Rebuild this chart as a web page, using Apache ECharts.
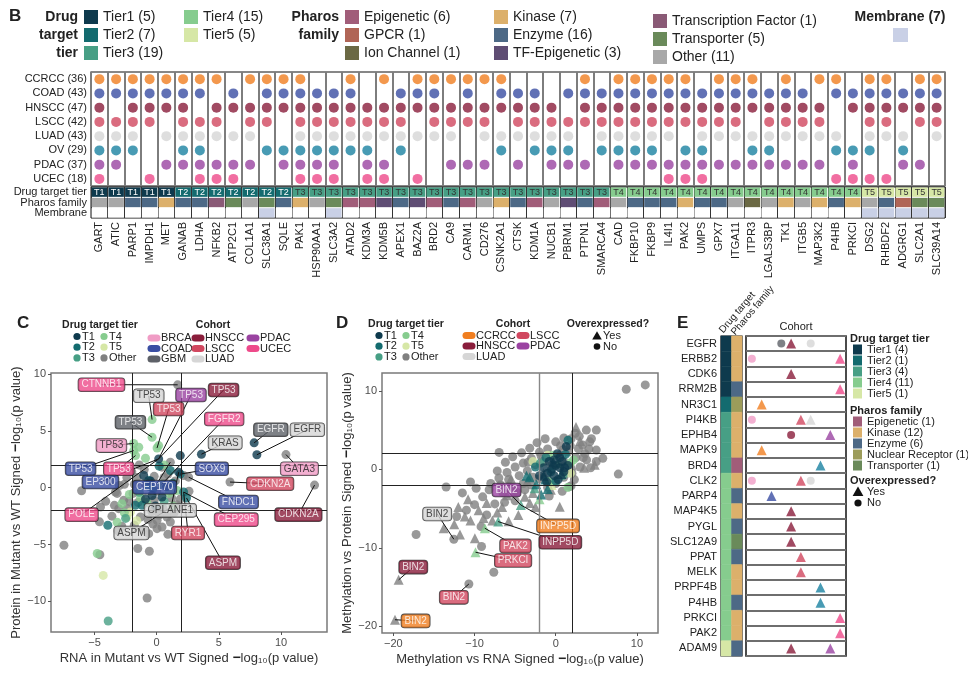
<!DOCTYPE html>
<html><head><meta charset="utf-8">
<script src="https://cdn.jsdelivr.net/npm/echarts@6/dist/echarts.min.js"></script>
<style>html,body{margin:0;padding:0;background:#fff}#c{width:968px;height:677px}</style>
</head><body><div id="c"></div><script>
// ---------------- DATA: panel B ----------------
const genes = ['GART','ATIC','PARP1','IMPDH1','MET','GANAB','LDHA','NFKB2','ATP2C1','COL1A1','SLC38A1','SQLE','PAK1','HSP90AA1','SLC3A2','ATAD2','KDM3A','KDM5B','APEX1','BAZ2A','BRD2','CA9','CARM1','CD276','CSNK2A1','CTSK','KDM1A','NUCB1','PBRM1','PTPN1','SMARCA4','CAD','FKBP10','FKBP9','IL4I1','PAK2','UMPS','GPX7','ITGA11','ITPR3','LGALS3BP','TK1','ITGB5','MAP3K2','P4HB','PRKCI','DSG2','RHBDF2','ADGRG1','SLC2A1','SLC39A14'];
const geneTier = [1,1,1,1,1, 2,2,2,2,2,2,2, 3,3,3,3,3,3,3,3,3,3,3,3,3,3,3,3,3,3,3, 4,4,4,4,4,4,4,4,4,4,4,4,4,4,4, 5,5,5,5,5];
const genePharos = ['Other','Other','Enzyme','Enzyme','Kinase','Enzyme','Enzyme','Transcription Factor','Transporter','Other','Transporter','Enzyme','Kinase','Other','Transporter','Epigenetic','Epigenetic','TF-Epigenetic','Enzyme','TF-Epigenetic','Epigenetic','Enzyme','Epigenetic','Other','Kinase','Enzyme','Epigenetic','Other','TF-Epigenetic','Enzyme','Epigenetic','Other','Enzyme','Enzyme','Enzyme','Kinase','Enzyme','Enzyme','Other','Ion Channel','Other','Kinase','Other','Kinase','Enzyme','Kinase','Other','Enzyme','GPCR','Transporter','Transporter'];
const membraneGenes = ['SLC38A1','SLC3A2','DSG2','RHBDF2','ADGRG1','SLC2A1','SLC39A14'];
const bCohorts = ['CCRCC','COAD','HNSCC','LSCC','LUAD','OV','PDAC','UCEC'];
const bCohortCounts = [36,43,47,42,43,29,37,18];
// column numbers (1-based, in gene order) where each cohort has a dot
const presCCRCC = [1,2,3,4,5,6,7,8,10,11,12,13,16,18,20,21,22,23,24,25,30,32,33,34,35,36,38,39,40,42,44,45,47,48,50,51];
const presCOAD = [1,2,3,4,5,6,7,9,11,12,13,14,15,16,19,20,21,23,25,26,27,29,30,31,32,33,34,35,36,37,38,39,40,41,42,43,45,46,47,48,49,50,51];
const presHNSCC = [1,3,4,5,6,8,9,10,11,12,13,14,15,16,17,18,19,20,21,22,23,24,25,26,27,28,30,31,32,33,34,35,36,37,38,39,40,41,42,43,44,46,47,48,49,50,51];
const presLSCC = [1,2,3,4,6,7,8,10,11,13,14,15,16,17,18,19,21,22,23,24,26,27,28,29,30,31,32,33,34,35,36,37,38,39,41,42,43,44,47,48,50,51];
const presLUAD = [1,2,3,5,6,7,8,9,10,13,14,15,16,17,18,19,20,21,22,24,25,26,27,28,29,31,32,33,34,35,37,38,39,40,41,42,43,44,45,47,48,49,51];
const presOV = [1,2,3,6,7,11,12,13,14,15,16,17,19,25,27,28,29,31,32,33,34,36,37,40,41,45,46,47,49];
const presPDAC = [1,2,5,6,7,8,9,10,12,13,14,15,17,18,22,23,24,26,28,29,30,32,33,34,35,36,37,38,39,40,41,42,43,44,46,49,50];
const presUCEC = [1,4,7,8,9,13,14,15,17,18,20,35,36,37,45,46,47,48];
const bPresence = [presCCRCC,presCOAD,presHNSCC,presLSCC,presLUAD,presOV,presPDAC,presUCEC];

// ---------------- DATA: panel C ----------------
const cT1 = [[1.9,2.83],[3.6,2.95],[7.84,3.95],[8.06,2.9],[0.16,2.54],[1.77,1.37],[-1.04,1.08],[-0.37,-0.68],[0.43,-0.82],[-0.9,-1.0],[-0.1,-1.6],[0.8,0.1],[-0.5,0.6]];
const cT2 = [[1.1,1.52],[-0.64,0.64],[2.17,-0.38],[-1.71,-1.55],[-1.17,-1.55],[-3.93,-3.3],[2.4,-0.9],[0.2,1.9],[-0.3,-0.1],[1.3,0.4],[1.9,1.2]];
const cT3 = [[-3.9,-11.73],[-2.5,-2.7],[-0.6,0.1],[0.6,-1.2],[-1.4,-0.4]];
const cT4 = [[-0.37,6.0],[-0.37,4.44],[0.03,3.5],[-1.85,3.9],[-1.44,3.56],[-1.85,3.27],[-1.7,2.83],[0.16,3.71],[-3.18,-3.04],[-4.78,-5.79],[1.64,-0.24],[-2.8,-1.4],[-1.3,-0.9],[-0.8,-1.3],[0.4,0.3],[1.0,-0.5],[-2.2,-0.6],[0.6,2.0],[-0.9,2.6],[1.3,-1.6],[-2.6,-2.2]];
const cT5 = [[-4.3,-7.72],[-2.11,-2.14],[-2.4,-2.6],[-1.6,-2.9]];
const cOther = [[1.69,9.06],[10.4,2.92],[5.9,0.5],[12.7,0.23],[-6.04,-0.27],[-7.46,-5.06],[-4.57,-5.9],[-1.52,-5.35],[-0.59,-5.59],[-0.77,-9.71],[-4.52,-1.7],[1.1,2.25],[0.43,1.81],[2.17,1.08],[2.57,0.93],[-3.31,-0.38],[-2.65,-1.11],[-3.05,-1.84],[-2.38,-1.84],[-1.31,-2.58],[0.03,-2.87],[0.83,-2.58],[0.03,-3.6],[0.43,-3.46],[-0.64,-4.04],[1.1,-3.02],[-1.8,0.3],[-2.4,0.9],[-3.0,0.2],[-1.0,1.6],[0.9,1.2],[1.5,0.6],[-0.2,1.0],[0.0,-0.3],[-1.5,-1.3],[-0.4,-2.1],[1.4,-2.2],[-3.6,-2.5],[-4.1,-1.2],[-2.8,-3.4],[-1.1,-3.7],[0.9,-4.1],[-2.0,1.4],[-1.4,2.0],[0.5,-1.8],[1.9,-1.0],[-0.7,-2.8],[-3.18,-0.5],[-3.4,-1.55],[-3.1,-3.8],[-2.2,-1.2],[-1.9,-0.5],[-0.9,0.3],[0.6,0.9],[1.2,-0.9],[-0.2,-1.1],[-1.6,0.9],[-2.6,0.3],[0.2,-2.4],[-1.8,-3.3],[-0.3,-3.2],[1.6,-1.5],[2.6,-0.3],[-4.6,-3.0],[-3.7,0.6]];
const cLabelGene = ['CTNNB1','TP53','TP53','TP53','TP53','TP53','FGFR2','EGFR','EGFR','TP53','KRAS','GATA3','TP53','TP53','SOX9','EP300','CEP170','CDKN2A','FNDC1','CDKN2A','POLE','CPLANE1','CEP295','ASPM','RYR1','ASPM'];
const cLabelCohort = ['UCEC','LUAD','PDAC','HNSCC','LSCC','GBM','UCEC','GBM','LUAD','BRCA','LUAD','BRCA','COAD','UCEC','COAD','COAD','COAD','LSCC','COAD','HNSCC','UCEC','LUAD','UCEC','LUAD','LSCC','HNSCC'];
const cLabelAt = [[-4.44,9.07],[-0.64,8.1],[2.76,8.16],[5.38,8.6],[0.96,6.93],[-2.11,5.76],[5.43,6.05],[9.18,5.11],[12.12,5.11],[-3.64,3.71],[5.51,3.95],[11.48,1.67],[-6.12,1.67],[-3.05,1.67],[4.44,1.67],[-4.52,0.5],[-0.16,0.05],[9.13,0.35],[6.58,-1.26],[11.4,-2.37],[-6.04,-2.37],[1.1,-1.99],[6.4,-2.81],[-2.03,-3.98],[2.52,-3.98],[5.33,-6.61]];
const cLabelPoint = [[1.69,9.06],[-0.37,6.0],[0.16,2.54],[0.16,2.54],[0.03,3.5],[-0.37,4.44],[0.4,0.3],[7.84,3.95],[8.06,2.9],[-1.85,3.9],[3.6,2.95],[10.4,2.92],[-1.85,3.27],[-1.7,2.83],[1.9,1.2],[0.16,2.54],[1.1,2.25],[5.9,0.5],[2.57,0.93],[12.7,0.23],[0.16,2.54],[1.77,1.37],[2.17,-0.38],[1.3,-1.6],[2.17,-0.38],[2.4,-0.9]];

// ---------------- DATA: panel D  ([x, y, overexpressed]) ----------------
const dT1 = [[-0.5,0,0],[0,0.5,0],[0.5,0.2,0],[-1,-0.5,0],[-0.2,-0.8,0],[0.8,1.0,0],[1.3,2.9,0],[-1.5,0.2,0],[0.3,-1.3,0],[1.0,-0.3,0],[-0.8,1.0,0],[0.5,1.5,0],[-2,-0.8,0],[1.5,0.5,0],[0.2,2.0,0],[-1.1,-1.6,0],[1.1,0.2,0],[-0.2,1.2,0],[-1.5,-0.8,1],[0.7,-0.6,1],[-0.3,0.9,1]];
const dT2 = [[1.52,3.72,0],[-1.2,1.5,0],[0.0,-1.5,0],[-2.5,0.3,0],[1.2,1.9,0],[-0.6,-0.3,0],[-3.2,-1.0,1],[-3.6,-0.8,1],[-2.4,-1.9,1],[-1.0,-2.5,1],[-1.8,-3.2,1],[-1.3,-1.3,1]];
const dT3 = [[-4.3,-4.54,1],[-7.09,-6.65,1],[-2.6,-2.4,1],[-1.9,0.8,0],[0.9,-0.8,0]];
const dT4 = [[-8.73,-7.5,1],[-9.88,-10.55,1],[-2.0,-3.8,1],[0.3,0.8,1],[-0.3,1.8,0],[1.8,0.8,0],[-0.8,-1.5,0],[1.5,-2.3,0],[2.2,1.2,0]];
const dT5 = [[-2.8,1.0,0],[1.8,-0.5,0],[-1.0,1.8,0],[-0.5,-2.0,1]];
const dOther = [[8.69,10.2,0],[11.03,10.75,0],[7.71,-0.6,0],[-6.97,2.16,0],[-13.5,-2.25,0],[-17.2,-8.3,0],[-12.55,-8.9,0],[-9.14,-9.83,0],[-7.63,-13.1,0],[-10.7,-14.6,0],[3.77,5.0,0],[5.0,5.0,0],[4.2,3.5,0],[5.0,2.45,0],[5.0,1.0,0],[5.8,1.4,0],[1.7,-2.2,0],[2.4,4.6,0],[3.3,3.1,0],[3.6,2.0,0],[4.4,3.9,0],[1.0,4.0,0],[0.0,3.5,0],[-1.0,2.6,0],[-2.0,2.2,0],[-3.0,1.4,0],[-4.0,0.8,0],[-5.0,0.3,0],[-6.0,-0.4,0],[-7.0,-1.1,0],[-8.0,-1.8,0],[-4.5,-0.8,0],[-3.5,-0.2,0],[-2.5,0.6,0],[-1.5,1.0,0],[0.5,1.8,0],[1.5,2.2,0],[2.5,1.5,0],[3.0,0.3,0],[2.0,-0.5,0],[1.0,-1.0,0],[0.0,-1.8,0],[-1.0,-2.3,0],[-2.0,-1.2,0],[-3.0,-2.0,0],[-4.0,-1.8,0],[-5.5,-2.3,0],[-6.5,-3.0,0],[-9.0,-3.5,0],[-10.0,-4.5,0],[-11.0,-5.2,0],[-8.5,-5.8,0],[-7.5,-4.4,0],[1.8,3.0,0],[-0.5,0.5,0],[2.8,2.6,0],[3.8,1.2,0],[1.9,-2.1,0],[0.8,-2.8,0],[-0.8,-3.4,0],[-9.2,-7.3,0],[-11.5,-3.0,0],[-6.8,-2.0,0],[-5.0,-4.0,0],[-8.2,-2.6,0],[-7.2,-0.2,0],[-6.2,0.9,0],[-5.3,1.6,0],[-4.2,2.1,0],[-3.2,2.7,0],[-2.3,3.4,0],[-1.3,3.9,0],[0.6,3.0,0],[1.9,3.9,0],[2.9,4.2,0],[3.4,1.5,0],[4.1,2.6,0],[4.3,0.2,0],[2.3,-1.3,0],[-5.8,-1.3,0],[-4.8,-2.9,0],[-3.8,-2.6,0],[-2.8,-1.0,0],[-6.3,-4.2,0],[-9.8,-2.4,0],[-12.2,-6.0,0],[-10.5,-1.6,0],[-3.4,0.9,0],[-1.8,1.7,0],[0.9,2.5,0],[-10.5,-6.5,1],[-9.96,-8.77,1],[-19.35,-14.07,1],[-19.8,-19.15,1],[-12.5,-7.0,1],[-11.2,-6.0,1],[-9.5,-5.2,1],[-8.5,-4.3,1],[-7.2,-5.5,1],[-6.0,-3.3,1],[-5.0,-2.8,1],[-3.8,-3.5,1],[-2.5,-4.8,1],[-4.6,-5.8,1],[-3.5,-1.5,1],[-1.5,-0.5,1],[0.5,0.8,1],[2.5,5.4,1],[3.5,0.2,1],[-7.8,-6.5,1],[-13.8,-7.5,1],[-12.0,-4.8,1],[-10.8,-3.8,1],[-5.5,-1.2,1],[2.0,0.5,1],[4.8,0.6,1],[-2.8,-3.0,1],[0.5,-4.75,1],[-8.9,-6.2,1],[-6.6,-4.8,1],[-11.8,-8.3,1],[-5.8,-6.6,1],[-3.2,-4.3,1],[1.2,1.2,1],[3.0,3.6,1],[-0.6,-2.6,1]];
const dLabelGene = ['BIN2','BIN2','INPP5D','INPP5D','PAK2','PRKCI','BIN2','BIN2','BIN2'];
const dLabelCohort = ['PDAC','LUAD','CCRCC','HNSCC','LSCC','LSCC','HNSCC','LSCC','CCRCC'];
const dLabelAt = [[-6.06,-2.63],[-14.6,-5.68],[0.29,-7.2],[0.57,-9.28],[-4.96,-9.75],[-5.25,-11.6],[-17.55,-12.45],[-12.55,-16.3],[-17.26,-19.3]];
const dLabelPoint = [[-4.3,-4.54],[-12.55,-8.9],[-4.3,-4.54],[-7.09,-6.65],[-8.73,-7.5],[-9.88,-10.55],[-19.35,-14.07],[-10.7,-14.6],[-19.8,-19.15]];

// ---------------- DATA: panel E ----------------
const eGenes = ['EGFR','ERBB2','CDK6','RRM2B','NR3C1','PI4KB','EPHB4','MAPK9','BRD4','CLK2','PARP4','MAP4K5','PYGL','SLC12A9','PPAT','MELK','PRPF4B','P4HB','PRKCI','PAK2','ADAM9'];
const eTier = [1,1,1,1,2,3,3,3,3,4,4,4,4,4,4,4,4,4,4,4,5];
const ePharos = ['Kinase','Kinase','Kinase','Enzyme','Nuclear Receptor','Kinase','Kinase','Kinase','Epigenetic','Kinase','Enzyme','Kinase','Enzyme','Transporter','Enzyme','Kinase','Kinase','Enzyme','Kinase','Kinase','Enzyme'];
const eCohorts = ['BRCA','CCRCC','COAD','GBM','HNSCC','LSCC','LUAD','OV','PDAC','UCEC'];
const eHitGene = ['EGFR','EGFR','EGFR','ERBB2','ERBB2','CDK6','RRM2B','NR3C1','PI4KB','PI4KB','PI4KB','EPHB4','EPHB4','MAPK9','BRD4','CLK2','CLK2','CLK2','PARP4','MAP4K5','PYGL','SLC12A9','PPAT','MELK','PRPF4B','P4HB','PRKCI','PAK2','ADAM9','ADAM9'];
const eHitCohort = ['GBM','HNSCC','LUAD','BRCA','UCEC','HNSCC','UCEC','CCRCC','BRCA','LSCC','LUAD','HNSCC','PDAC','CCRCC','OV','BRCA','LSCC','LUAD','COAD','HNSCC','HNSCC','HNSCC','LSCC','LSCC','OV','OV','UCEC','UCEC','HNSCC','PDAC'];
const eHitOver = [0,1,0,0,1,1,1,1,0,1,1,0,1,1,1,0,1,0,1,1,1,1,1,1,1,1,1,1,1,1];

// ---------------- STYLE ----------------
const FONT = '"Liberation Sans", Arial, sans-serif';
const cohortColor = {BRCA:'#f09cc5',CCRCC:'#f07e20',COAD:'#3a4ea3',GBM:'#5e6168',HNSCC:'#8a1d3b',LSCC:'#d1475f',LUAD:'#d6d6d6',OV:'#1a82a1',PDAC:'#9a43a1',UCEC:'#ee4a8a'};
const labelTextColor = {BRCA:'#222',LUAD:'#222'};
const tierColor = ['#0e3a4d','#136b6f','#479f85','#86cc8e','#d6e7a6'];
const otherGray = '#808080';
const pharosColor = {'Epigenetic':'#a15d79','GPCR':'#b06556','Ion Channel':'#6b6944','Kinase':'#dcb06b','Enzyme':'#4d6986','TF-Epigenetic':'#5f4d74','Transcription Factor':'#8a5a76','Transporter':'#6a8a5a','Other':'#a8a8a8','Nuclear Receptor':'#9c9c5a'};
const membraneColor = '#c9d0e6';

// ---------------- helpers ----------------
const G = [];
function txt(x,y,t,o){G.push({type:'text',x:x,y:y,silent:true,z:100,style:Object.assign({text:t,fill:'#222',fontSize:14,fontFamily:FONT,align:'left',verticalAlign:'middle',textAlign:'left',textVerticalAlign:'middle'},o||{})});}
function box(x,y,w,h,c,r){G.push({type:'rect',silent:true,z:100,shape:{x:x,y:y,width:w,height:h,r:r||0},style:{fill:c}});}
function dot(x,y,r,c){G.push({type:'circle',silent:true,z:100,shape:{cx:x,cy:y,r:r},style:{fill:c}});}
function tri(x,y,s,c){G.push({type:'polygon',silent:true,z:100,shape:{points:[[x,y-s*0.6],[x-s*0.6,y+s*0.45],[x+s*0.6,y+s*0.45]]},style:{fill:c}});}
function pill(x,y,c){box(x-6.5,y-3.6,13,7.2,c,3.6);}

// ---- B legend ----
txt(9,16,'B',{fontSize:17,fontWeight:'bold'});
[['Drug',17],['target',35],['tier',53]].forEach(a=>txt(78,a[1],a[0],{fontWeight:'bold',align:'right',textAlign:'right'}));
const tierLeg = ['Tier1 (5)','Tier2 (7)','Tier3 (19)','Tier4 (15)','Tier5 (5)'];
const tierLegPos = [[84,17],[84,35],[84,53],[184,17],[184,35]];
tierLeg.forEach((t,i)=>{box(tierLegPos[i][0],tierLegPos[i][1]-7,14,14,tierColor[i]);txt(tierLegPos[i][0]+19,tierLegPos[i][1],t);});
[['Pharos',17],['family',35]].forEach(a=>txt(339,a[1],a[0],{fontWeight:'bold',align:'right',textAlign:'right'}));
const pharLeg = [['Epigenetic','Epigenetic (6)',345,17],['GPCR','GPCR (1)',345,35],['Ion Channel','Ion Channel (1)',345,53],['Kinase','Kinase (7)',494,17],['Enzyme','Enzyme (16)',494,35],['TF-Epigenetic','TF-Epigenetic (3)',494,53],['Transcription Factor','Transcription Factor (1)',653,21],['Transporter','Transporter (5)',653,39],['Other','Other (11)',653,57]];
pharLeg.forEach(p=>{box(p[2],p[3]-7,14,14,pharosColor[p[0]]);txt(p[2]+19,p[3],p[1]);});
txt(900,17,'Membrane (7)',{fontWeight:'bold',align:'center',textAlign:'center'});
box(893,28,15,14,membraneColor);

// ---- C legend ----
txt(17,323,'C',{fontSize:17,fontWeight:'bold'});
function tierLegend(x0,x1,y0){
  const rows=[y0,y0+10.7,y0+21.4];
  [['T1',tierColor[0],x0,rows[0]],['T2',tierColor[1],x0,rows[1]],['T3',tierColor[2],x0,rows[2]],['T4',tierColor[3],x1,rows[0]],['T5',tierColor[4],x1,rows[1]],['Other',otherGray,x1,rows[2]]].forEach(a=>{dot(a[2],a[3],3.6,a[1]);txt(a[2]+5,a[3],a[0],{fontSize:11});});
}
txt(100,325,'Drug target tier',{fontSize:10.5,fontWeight:'bold',align:'center',textAlign:'center'});
tierLegend(77,104,336.5);
txt(213,325,'Cohort',{fontSize:10.5,fontWeight:'bold',align:'center',textAlign:'center'});
[['BRCA',154,338],['COAD',154,348.5],['GBM',154,359],['HNSCC',198,338],['LSCC',198,348.5],['LUAD',198,359],['PDAC',253,338],['UCEC',253,348.5]].forEach(a=>{pill(a[1],a[2],cohortColor[a[0]]);txt(a[1]+7,a[2],a[0],{fontSize:11});});

// ---- D legend ----
txt(336,323,'D',{fontSize:17,fontWeight:'bold'});
txt(406,324,'Drug target tier',{fontSize:10.5,fontWeight:'bold',align:'center',textAlign:'center'});
tierLegend(379,406,335.5);
txt(513,324,'Cohort',{fontSize:10.5,fontWeight:'bold',align:'center',textAlign:'center'});
[['CCRCC',469,335.5],['HNSCC',469,346],['LUAD',469,356.5],['LSCC',523,335.5],['PDAC',523,346]].forEach(a=>{pill(a[1],a[2],cohortColor[a[0]]);txt(a[1]+7,a[2],a[0],{fontSize:11});});
txt(608,324,'Overexpressed?',{fontSize:10.5,fontWeight:'bold',align:'center',textAlign:'center'});
tri(597,336,8,'#111');txt(603,336,'Yes',{fontSize:11});
dot(597,346.5,3.3,'#111');txt(603,346.5,'No',{fontSize:11});

// ---- E legend & headers ----
txt(677,323,'E',{fontSize:17,fontWeight:'bold'});
txt(796,327,'Cohort',{fontSize:11,align:'center',textAlign:'center'});
G.push({type:'text',x:725,y:335,rotation:50*Math.PI/180,silent:true,z:100,style:{text:'Drug target',fill:'#222',fontSize:10,fontFamily:FONT,align:'left',verticalAlign:'bottom',textAlign:'left',textVerticalAlign:'bottom'}});
G.push({type:'text',x:737,y:337,rotation:50*Math.PI/180,silent:true,z:100,style:{text:'Pharos family',fill:'#222',fontSize:10,fontFamily:FONT,align:'left',verticalAlign:'bottom',textAlign:'left',textVerticalAlign:'bottom'}});
txt(850,339,'Drug target tier',{fontSize:11,fontWeight:'bold'});
['Tier1 (4)','Tier2 (1)','Tier3 (4)','Tier4 (11)','Tier5 (1)'].forEach((t,i)=>{const y=349.5+i*11;box(853,y-5,9,10,tierColor[i]);txt(867,y,t,{fontSize:11});});
txt(850,411,'Pharos family',{fontSize:11,fontWeight:'bold'});
[['Epigenetic','Epigenetic (1)'],['Kinase','Kinase (12)'],['Enzyme','Enzyme (6)'],['Nuclear Receptor','Nuclear Receptor (1)'],['Transporter','Transporter (1)']].forEach((p,i)=>{const y=421.5+i*11;box(853,y-5,9,10,pharosColor[p[0]]);txt(867,y,p[1],{fontSize:11});});
txt(850,481,'Overexpressed?',{fontSize:11,fontWeight:'bold'});
tri(858,492,9,'#111');txt(867,492,'Yes',{fontSize:11});
dot(858,503,3.6,'#111');txt(867,503,'No',{fontSize:11});

// ---------------- series building ----------------
const series = [];
bCohorts.forEach((c,i)=>{
  series.push({type:'scatter',xAxisIndex:0,yAxisIndex:0,symbolSize:10,itemStyle:{color:cohortColor[c]},
    data:bPresence[i].map(k=>[genes[k-1], c+' ('+bCohortCounts[i]+')'])});
});
const annoRows = ['Drug target tier','Pharos family','Membrane'];
const annoData=[], annoFill=[], annoText=[];
genes.forEach((g,i)=>{
  annoData.push([i,0]); annoFill.push(tierColor[geneTier[i]-1]); annoText.push('T'+geneTier[i]);
  annoData.push([i,1]); annoFill.push(pharosColor[genePharos[i]]); annoText.push('');
  annoData.push([i,2]); annoFill.push(membraneGenes.indexOf(g)>=0?membraneColor:'#ffffff'); annoText.push('');
});
series.push({type:'custom',xAxisIndex:1,yAxisIndex:1,data:annoData,silent:true,
  renderItem:(p,api)=>{const c=api.coord([api.value(0),api.value(1)]);const s=api.size([1,1]);const t=annoText[p.dataIndex];
    const el={type:'rect',shape:{x:c[0]-s[0]/2+0.6,y:c[1]-s[1]/2+0.5,width:s[0]-1.2,height:s[1]-1},style:{fill:annoFill[p.dataIndex]}};
    if(t){el.textContent={style:{text:t,fill:(t==='T1'||t==='T2')?'#fff':'#333',fontSize:9,fontFamily:FONT}};el.textConfig={position:'inside'};}
    return el;}});

function thr(xc){return {silent:true,symbol:'none',animation:false,label:{show:false},lineStyle:{color:'#222',width:1,type:'solid'},
  data:[{xAxis:-2,lineStyle:{color:xc,width:xc==='#222'?1:1.4}},{xAxis:2},{yAxis:2},{yAxis:-2}]};}
const cSets=[[cOther,otherGray],[cT5,tierColor[4]],[cT4,tierColor[3]],[cT3,tierColor[2]],[cT2,tierColor[1]],[cT1,tierColor[0]]];
cSets.forEach((s,i)=>series.push({type:'scatter',xAxisIndex:2,yAxisIndex:2,symbolSize:9,itemStyle:{color:s[1]},data:s[0],z:2,markLine:i===0?thr('#222'):undefined}));
const dSets=[[dOther,otherGray],[dT5,tierColor[4]],[dT4,tierColor[3]],[dT3,tierColor[2]],[dT2,tierColor[1]],[dT1,tierColor[0]]];
dSets.forEach((s,i)=>series.push({type:'scatter',xAxisIndex:3,yAxisIndex:3,itemStyle:{color:s[1]},data:s[0],z:2,
  symbol:v=>v[2]?'triangle':'circle',symbolSize:v=>v[2]?10:9,markLine:i===0?thr('#888'):undefined}));
function labelSeries(ax,genesL,cohL,at,pt){
  series.push({type:'lines',coordinateSystem:'cartesian2d',xAxisIndex:ax,yAxisIndex:ax,silent:true,z:4,polyline:false,
    lineStyle:{color:'#111',width:1,opacity:1},data:at.map((a,i)=>({coords:[a,pt[i]]}))});
  series.push({type:'scatter',xAxisIndex:ax,yAxisIndex:ax,symbolSize:1,z:6,silent:true,itemStyle:{color:'rgba(0,0,0,0)'},
    label:{show:true,position:'inside',fontSize:10,fontFamily:FONT,borderColor:'#222',borderWidth:0.8,borderRadius:3,padding:[2,3,1,3]},
    data:at.map((a,i)=>({value:a,label:{formatter:genesL[i],backgroundColor:cohortColor[cohL[i]],color:labelTextColor[cohL[i]]||'#fff'}}))});
}
labelSeries(2,cLabelGene,cLabelCohort,cLabelAt,cLabelPoint);
labelSeries(3,dLabelGene,dLabelCohort,dLabelAt,dLabelPoint);

const eTileData=[], eTileFill=[];
eGenes.forEach((g,i)=>{eTileData.push([0,i]);eTileFill.push(tierColor[eTier[i]-1]);eTileData.push([1,i]);eTileFill.push(pharosColor[ePharos[i]]);});
series.push({type:'custom',xAxisIndex:4,yAxisIndex:4,data:eTileData,silent:true,
  renderItem:(p,api)=>{const c=api.coord([api.value(0),api.value(1)]);const s=api.size([1,1]);
    return {type:'rect',shape:{x:c[0]-s[0]/2,y:c[1]-s[1]/2,width:s[0],height:s[1]},style:{fill:eTileFill[p.dataIndex],stroke:eTileFill[p.dataIndex],lineWidth:0.5}};}});
series.push({type:'scatter',xAxisIndex:5,yAxisIndex:5,z:3,
  symbol:v=>v[2]?'triangle':'circle',symbolSize:v=>v[2]?10:8,
  data:eHitGene.map((g,i)=>({value:[eCohorts.indexOf(eHitCohort[i]),g,eHitOver[i]],itemStyle:{color:cohortColor[eHitCohort[i]]}}))});

// ---------------- axes ----------------
const minus = v => String(v).replace('-','\u2212');
const tickLab = {fontSize:11,color:'#4d4d4d',fontFamily:FONT,formatter:minus};
const sub10 = '\u2081\u2080';
const noLine = {show:false,onZero:false};
const option = {
  animation:false,
  backgroundColor:'#fff',
  textStyle:{fontFamily:FONT},
  graphic:G,
  grid:[
    {left:91,top:72,width:854,height:114,show:true,borderColor:'#111',borderWidth:1.2,backgroundColor:'transparent'},
    {left:91,top:187,width:854,height:31,show:true,borderColor:'#111',borderWidth:1,backgroundColor:'transparent'},
    {left:51,top:373,width:276,height:259,show:true,borderColor:'#7a7a7a',borderWidth:1.5,backgroundColor:'transparent'},
    {left:382,top:373,width:276,height:260,show:true,borderColor:'#7a7a7a',borderWidth:1.5,backgroundColor:'transparent'},
    {left:721,top:336,width:21,height:320,show:true,borderColor:'#111',borderWidth:1.2,backgroundColor:'transparent'},
    {left:746,top:336,width:100,height:320,show:true,borderColor:'#111',borderWidth:1.5,backgroundColor:'transparent'}
  ],
  xAxis:[
    {gridIndex:0,type:'category',data:genes,axisLabel:{show:false},axisTick:{show:false},axisLine:noLine,splitLine:{show:true,interval:0,lineStyle:{color:'#7d7d7d',width:2}}},
    {gridIndex:1,type:'category',data:genes,position:'bottom',axisLabel:{interval:0,rotate:90,fontSize:11,color:'#222',margin:4},axisTick:{show:false},axisLine:noLine,splitLine:{show:true,interval:0,lineStyle:{color:'#333',width:1}}},
    {gridIndex:2,type:'value',min:-8.5,max:13.7,splitLine:{show:false},axisLine:noLine,
      axisTick:{show:true,length:3,customValues:[-5,0,5,10],lineStyle:{color:'#555'}},axisLabel:Object.assign({customValues:[-5,0,5,10],margin:5},tickLab),
      name:'RNA in Mutant vs WT Signed {b|\u2212}log'+sub10+'(p value)',nameLocation:'middle',nameGap:19,nameTextStyle:{fontSize:13,color:'#333',rich:{b:{fontSize:14,fontWeight:'bold',color:'#222'}}}},
    {gridIndex:3,type:'value',min:-21.4,max:12.6,splitLine:{show:false},axisLine:noLine,
      axisTick:{show:true,length:3,customValues:[-20,-10,0,10],lineStyle:{color:'#555'}},axisLabel:Object.assign({customValues:[-20,-10,0,10],margin:5},tickLab),
      name:'Methylation vs RNA Signed {b|\u2212}log'+sub10+'(p value)',nameLocation:'middle',nameGap:19,nameTextStyle:{fontSize:13,color:'#333',rich:{b:{fontSize:14,fontWeight:'bold',color:'#222'}}}},
    {gridIndex:4,type:'category',data:['tier','pharos'],show:false},
    {gridIndex:5,type:'value',min:-0.6,max:9.6,show:false}
  ],
  yAxis:[
    {gridIndex:0,type:'category',inverse:true,data:bCohorts.map((c,i)=>c+' ('+bCohortCounts[i]+')'),axisLabel:{fontSize:11,color:'#222',margin:4,interval:0},axisTick:{show:false},axisLine:noLine,splitLine:{show:false}},
    {gridIndex:1,type:'category',inverse:true,data:annoRows,axisLabel:{fontSize:11,color:'#222',margin:4,interval:0},axisTick:{show:false},axisLine:noLine},
    {gridIndex:2,type:'value',min:-12.7,max:10.1,splitLine:{show:false},axisLine:noLine,
      axisTick:{show:true,length:3,customValues:[-10,-5,0,5,10],lineStyle:{color:'#555'}},axisLabel:Object.assign({customValues:[-10,-5,0,5,10],margin:5},tickLab),
      name:'Protein in Mutant vs WT Signed {b|\u2212}log'+sub10+'(p value)',nameLocation:'middle',nameGap:27,nameTextStyle:{fontSize:13,color:'#333',rich:{b:{fontSize:14,fontWeight:'bold',color:'#222'}}}},
    {gridIndex:3,type:'value',min:-20.84,max:12.27,splitLine:{show:false},axisLine:noLine,
      axisTick:{show:true,length:3,customValues:[-20,-10,0,10],lineStyle:{color:'#555'}},axisLabel:Object.assign({customValues:[-20,-10,0,10],margin:5},tickLab),
      name:'Methylation vs Protein Signed {b|\u2212}log'+sub10+'(p value)',nameLocation:'middle',nameGap:25,nameTextStyle:{fontSize:13,color:'#333',rich:{b:{fontSize:14,fontWeight:'bold',color:'#222'}}}},
    {gridIndex:4,type:'category',inverse:true,data:eGenes,axisLabel:{fontSize:11,color:'#222',margin:4,interval:0},axisTick:{show:false},axisLine:noLine},
    {gridIndex:5,type:'category',inverse:true,data:eGenes,axisLabel:{show:false},axisTick:{show:false},axisLine:noLine,splitLine:{show:true,interval:0,lineStyle:{color:'#6e6e6e',width:2}}}
  ],
  series:series
};
const chart = echarts.init(document.getElementById('c'),null,{renderer:'canvas'});
chart.setOption(option);
</script></body></html>
